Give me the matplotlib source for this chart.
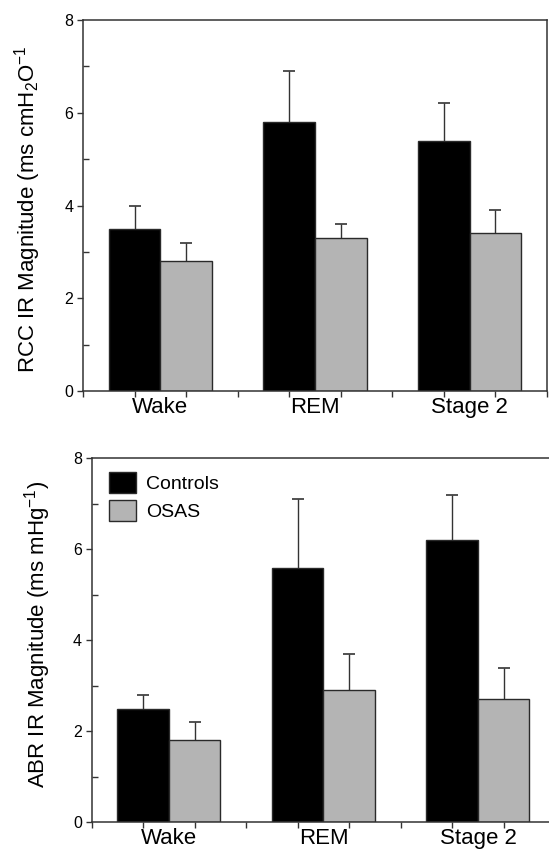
import numpy as np
import matplotlib
matplotlib.use('Agg')
import matplotlib.pyplot as plt
from matplotlib.ticker import MultipleLocator

plt.rcParams['font.family'] = ['Liberation Sans', 'DejaVu Sans']
plt.rcParams['mathtext.fontset'] = 'custom'
plt.rcParams['mathtext.rm'] = 'Liberation Sans'
plt.rcParams['mathtext.it'] = 'Liberation Sans'

### data
stages = ['Wake', 'REM', 'Stage 2']
groups = ['Controls', 'OSAS']

rcc_controls = [3.5, 5.8, 5.4]
rcc_controls_err = [0.5, 1.1, 0.8]
rcc_osas = [2.8, 3.3, 3.4]
rcc_osas_err = [0.4, 0.3, 0.5]

abr_controls = [2.5, 5.6, 6.2]
abr_controls_err = [0.3, 1.5, 1.0]
abr_osas = [1.8, 2.9, 2.7]
abr_osas_err = [0.4, 0.8, 0.7]

colors = ['#000000', '#b4b4b4']
edge = '#2a2a2a'

fig = plt.figure(figsize=(5.49, 8.6), dpi=100)
ax_top = fig.add_axes([83 / 549, 1 - 391 / 860, 464 / 549, 371 / 860])
ax_bot = fig.add_axes([91.7 / 549, 1 - 822.3 / 860, 463.5 / 549, 364 / 860])


def draw_panel(ax, ctrl, ctrl_err, osas, osas_err, ylabel, label_xy, legend=False):
    pos = np.arange(len(stages)) * 3 + 1.5   # group centres: 1.5, 4.5, 7.5
    for i, (vals, errs) in enumerate([(ctrl, ctrl_err), (osas, osas_err)]):
        x = pos - 0.5 + i
        ax.bar(x, vals, width=1.0, color=colors[i], edgecolor=edge,
               linewidth=1.0, label=groups[i], zorder=2)
        # symmetric bars behind the opaque bars -> only the upper half shows
        ax.errorbar(x, vals, yerr=errs, fmt='none',
                    ecolor='#333333', elinewidth=1.0, capsize=4, capthick=1.2,
                    zorder=1)
    ax.set_xlim(0, 9)
    ax.set_ylim(0, 8)

    # x axis: unlabelled ticks every unit, labels in the middle of each group
    ax.set_xticks(np.arange(0, 10))
    ax.set_xticklabels([])
    ax.set_xticks(pos, minor=True)
    ax.set_xticklabels(stages, minor=True, fontsize=16)
    ax.tick_params(axis='x', which='major', direction='out', length=4.5,
                   width=1.0, color='#333333')
    ax.tick_params(axis='x', which='minor', length=0, pad=4)

    # y axis: labelled major out, minor in
    ax.yaxis.set_major_locator(MultipleLocator(2))
    ax.yaxis.set_minor_locator(MultipleLocator(1))
    ax.tick_params(axis='y', which='major', direction='out', length=4,
                   width=1.0, labelsize=11.5, color='#333333', pad=3)
    ax.tick_params(axis='y', which='minor', direction='in', length=4,
                   width=1.0, color='#333333')
    ax.set_ylabel(ylabel, fontsize=16)
    ax.yaxis.set_label_coords(*label_xy)

    for s in ax.spines.values():
        s.set_linewidth(1.1)
        s.set_color('#333333')

    if legend:
        ax.legend(loc='upper left', frameon=False, fontsize=14,
                  handlelength=1.4, handleheight=1.3, handletextpad=0.5,
                  labelspacing=0.35, borderaxespad=0.3,
                  bbox_to_anchor=(0.008, 1.0))


draw_panel(ax_top, rcc_controls, rcc_controls_err, rcc_osas, rcc_osas_err,
           r'RCC IR Magnitude (ms cmH$_2$O$^{-1}$', (-0.087, 0.49))
draw_panel(ax_bot, abr_controls, abr_controls_err, abr_osas, abr_osas_err,
           r'ABR IR Magnitude (ms mHg$^{-1}$)', (-0.083, 0.515), legend=True)

fig.savefig('out.png', dpi=100)
